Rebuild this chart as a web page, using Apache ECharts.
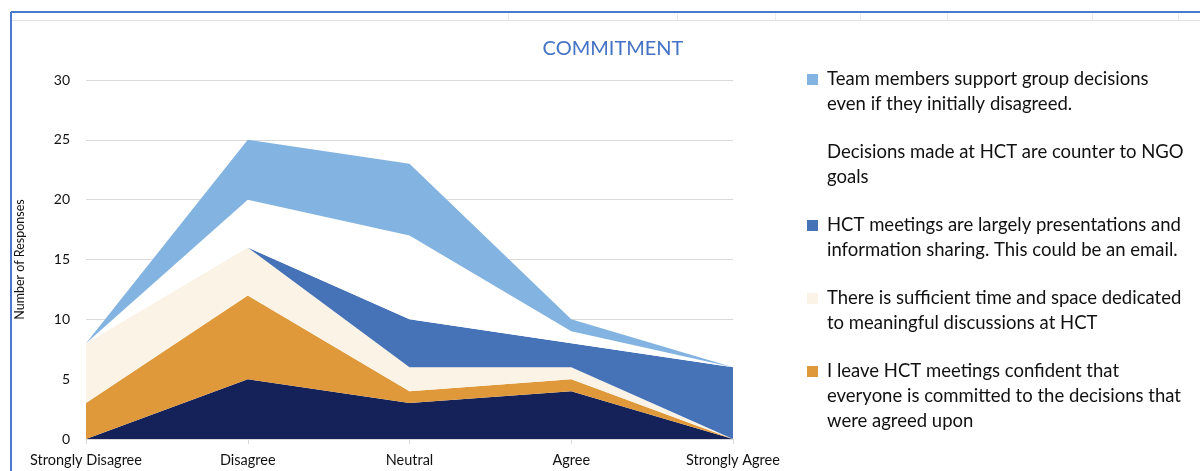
<!DOCTYPE html>
<html><head><meta charset="utf-8">
<script src="https://cdn.jsdelivr.net/npm/echarts@6/dist/echarts.min.js"></script>
<style>html,body{margin:0;padding:0;background:#fff}#c{width:1200px;height:471px}</style>
</head><body><div id="c"></div>
<script>
const categories = ['Strongly Disagree', 'Disagree', 'Neutral', 'Agree', 'Strongly Agree'];
const yTicks = [0, 5, 10, 15, 20, 25, 30];
// stacked bottom -> top
const navyValues      = [0, 5, 3, 4, 0];
const orangeValues    = [3, 7, 1, 1, 0];
const creamValues     = [5, 4, 2, 1, 0];
const darkBlueValues  = [0, 0, 4, 2, 6];
const whiteValues     = [0, 4, 7, 1, 0];
const lightBlueValues = [0, 5, 6, 1, 0];

const nameNavy = 'Other';
const nameOrange = 'I leave HCT meetings confident that everyone is committed to the decisions that were agreed upon';
const nameCream = 'There is sufficient time and space dedicated to meaningful discussions at HCT';
const nameDarkBlue = 'HCT meetings are largely presentations and information sharing. This could be an email.';
const nameWhite = 'Decisions made at HCT are counter to NGO goals';
const nameLightBlue = 'Team members support group decisions even if they initially disagreed.';

const legendLines = {};
legendLines[nameLightBlue] = ['Team members support group decisions', 'even if they initially disagreed.'];
legendLines[nameWhite] = ['Decisions made at HCT are counter to NGO', 'goals'];
legendLines[nameDarkBlue] = ['HCT meetings are largely presentations and', 'information sharing. This could be an email.'];
legendLines[nameCream] = ['There is sufficient time and space dedicated', 'to meaningful discussions at HCT'];
legendLines[nameOrange] = ['I leave HCT meetings confident that', 'everyone is committed to the decisions that', 'were agreed upon'];

const colors = {
  navy: '#152159', orange: '#E0993A', cream: '#FBF3E6',
  darkBlue: '#4672B8', white: '#FFFFFF', lightBlue: '#82B3E1'
};
const boxKey = {};
boxKey[nameLightBlue] = 'bLB';
boxKey[nameWhite] = 'bW';
boxKey[nameDarkBlue] = 'bDB';
boxKey[nameCream] = 'bC';
boxKey[nameOrange] = 'bO';

const FONT = 'Lato, "Open Sans", sans-serif';

function mk(name, data, color) {
  return {
    name: name, type: 'line', stack: 'total', data: data,
    symbol: 'none', lineStyle: { width: 0 },
    areaStyle: { color: color, opacity: 1 },
    itemStyle: { color: color }, emphasis: { disabled: true }
  };
}

const chart = echarts.init(document.getElementById('c'), null, { renderer: 'canvas' });
const txt = { fontSize: 18.5, lineHeight: 25, color: '#111', fontFamily: FONT };
chart.setOption({
  animation: false,
  backgroundColor: '#fff',
  title: {
    text: 'COMMITMENT', left: 608, top: 34, textAlign: 'center',
    textStyle: { color: '#4472C4', fontSize: 20, fontWeight: 'normal', fontFamily: FONT }
  },
  grid: { left: 86, right: 467, top: 80, bottom: 32 },
  legend: {
    orient: 'vertical', left: 797, top: 65, itemWidth: 0, itemHeight: 0, itemGap: 29,
    icon: 'rect', selectedMode: false,
    data: [nameLightBlue, nameWhite, nameDarkBlue, nameCream, nameOrange],
    formatter: function (name) {
      const lines = legendLines[name];
      let s = '{' + boxKey[name] + '|}{g|}{t|' + lines[0] + '}';
      for (let i = 1; i < lines.length; i++) s += '\n{sp|}{t|' + lines[i] + '}';
      return s;
    },
    textStyle: {
      rich: {
        t: txt,
        g: { width: 9, height: 11 },
        sp: { width: 20, height: 11 },
        bLB: { width: 11, height: 11, backgroundColor: colors.lightBlue },
        bW: { width: 11, height: 11, backgroundColor: colors.white },
        bDB: { width: 11, height: 11, backgroundColor: colors.darkBlue },
        bC: { width: 11, height: 11, backgroundColor: colors.cream },
        bO: { width: 11, height: 11, backgroundColor: colors.orange }
      }
    }
  },
  xAxis: {
    type: 'category', data: categories, boundaryGap: false,
    axisLine: { lineStyle: { color: '#d9d9d9' } },
    axisTick: { show: true, length: 5, lineStyle: { color: '#d9d9d9' } },
    axisLabel: { color: '#111', fontSize: 14.5, fontFamily: FONT, margin: 14 }
  },
  yAxis: {
    type: 'value', min: yTicks[0], max: yTicks[yTicks.length - 1], interval: 5,
    name: 'Number of Responses', nameLocation: 'middle', nameGap: 60, nameRotate: 90,
    nameTextStyle: { color: '#111', fontSize: 12.5, fontFamily: FONT },
    axisLine: { show: false }, axisTick: { show: false },
    axisLabel: { color: '#111', fontSize: 14, fontFamily: FONT, margin: 16 },
    splitLine: { lineStyle: { color: '#d9d9d9', width: 1 } }
  },
  graphic: [
    { type: 'line', shape: { x1: 11, y1: 12, x2: 1200, y2: 12 }, style: { stroke: '#4a78cc', lineWidth: 2 } },
    { type: 'line', shape: { x1: 11, y1: 12, x2: 11, y2: 471 }, style: { stroke: '#4a78cc', lineWidth: 2 } },
    { type: 'line', shape: { x1: 12, y1: 20.5, x2: 1200, y2: 20.5 }, style: { stroke: '#e2e2e2', lineWidth: 1 } },
    { type: 'line', shape: { x1: 508.5, y1: 13, x2: 508.5, y2: 20 }, style: { stroke: '#ececec', lineWidth: 1 } },
    { type: 'line', shape: { x1: 677.5, y1: 13, x2: 677.5, y2: 20 }, style: { stroke: '#ececec', lineWidth: 1 } },
    { type: 'line', shape: { x1: 775.5, y1: 13, x2: 775.5, y2: 20 }, style: { stroke: '#ececec', lineWidth: 1 } },
    { type: 'line', shape: { x1: 860.5, y1: 13, x2: 860.5, y2: 20 }, style: { stroke: '#ececec', lineWidth: 1 } },
    { type: 'line', shape: { x1: 947.5, y1: 13, x2: 947.5, y2: 20 }, style: { stroke: '#ececec', lineWidth: 1 } },
    { type: 'line', shape: { x1: 1092.5, y1: 13, x2: 1092.5, y2: 20 }, style: { stroke: '#ececec', lineWidth: 1 } },
    { type: 'line', shape: { x1: 1178.5, y1: 13, x2: 1178.5, y2: 20 }, style: { stroke: '#ececec', lineWidth: 1 } }
  ],
  series: [
    mk(nameNavy, navyValues, colors.navy),
    mk(nameOrange, orangeValues, colors.orange),
    mk(nameCream, creamValues, colors.cream),
    mk(nameDarkBlue, darkBlueValues, colors.darkBlue),
    mk(nameWhite, whiteValues, colors.white),
    mk(nameLightBlue, lightBlueValues, colors.lightBlue)
  ]
});
</script>
</body></html>
